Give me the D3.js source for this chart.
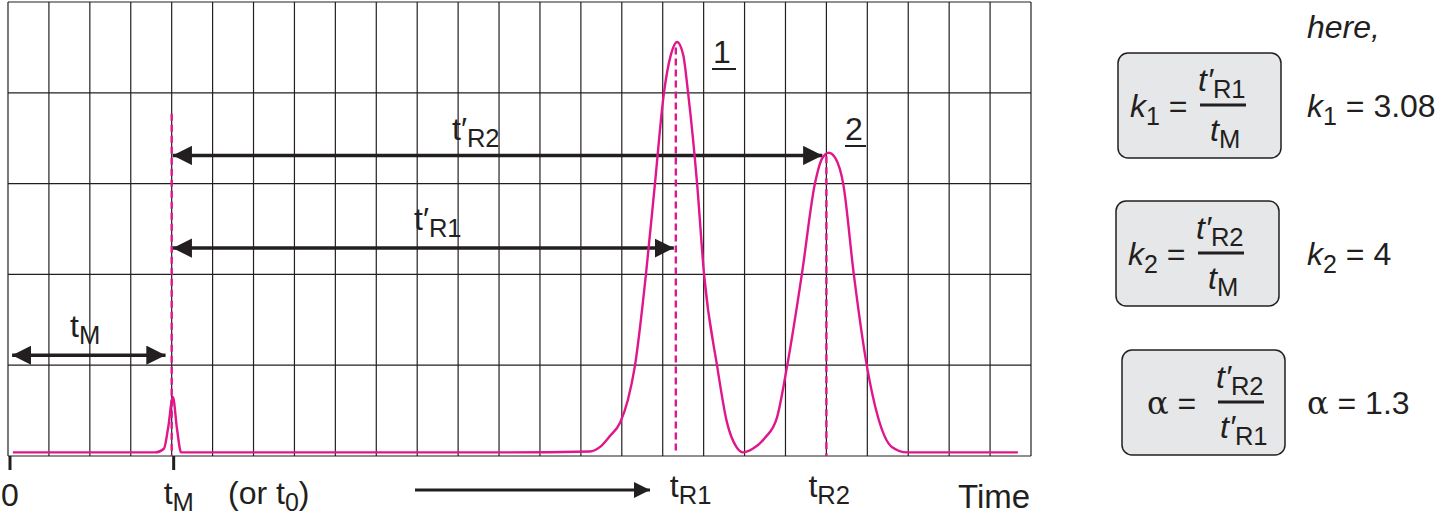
<!DOCTYPE html>
<html><head><meta charset="utf-8">
<script src="https://cdn.jsdelivr.net/npm/d3@7"></script>
<style>body{margin:0;background:#fff}text{font-family:"Liberation Sans",Arial,sans-serif;fill:#231f20}</style>
</head><body><svg id="c" width="1442" height="525"></svg>
<script>
// data (x in grid units of time, y in grid units of signal)
const traceX = [0.12,3.6,3.81,3.91,4.03,4.13,4.23,8,12,14.22,14.47,14.71,14.96,15.15,15.32,15.59,15.81,16.03,16.2,16.35,16.5,16.62,16.84,17.01,17.33,17.57,17.8,17.96,18.2,18.5,18.79,19.04,19.40,19.72,19.9,20.06,20.22,20.41,20.67,20.99,21.26,21.6,21.97,22.5,24.68];
const traceY = [0.04,0.04,0.08,0.3,0.65,0.3,0.04,0.04,0.04,0.05,0.1,0.22,0.37,0.62,0.99,2.0,3.0,4.0,4.42,4.56,4.42,4.0,3.0,2.0,0.99,0.37,0.1,0.04,0.08,0.2,0.42,0.99,2.0,3.0,3.28,3.34,3.28,3.0,2.0,0.99,0.43,0.1,0.04,0.04,0.04];
const tM = 4, tR1 = 16.32, tR2 = 20;
const bottomLabels = ["0","t_M","t_R1","t_R2"];
const formulas = [
  {lhs:"k", sub:"1", num:["t′","R1"], den:["t","M"], val:"3.08"},
  {lhs:"k", sub:"2", num:["t′","R2"], den:["t","M"], val:"4"},
  {lhs:"α", sub:"", num:["t′","R2"], den:["t′","R1"], val:"1.3"}
];

const svg = d3.select("#c");
const x = d3.scaleLinear().domain([0,25]).range([8,1031]);
const y = d3.scaleLinear().domain([0,5]).range([456,2]);
const pink = "#e0168c";
const FS = 32;

svg.append("g").selectAll("line").data(d3.range(0,26)).join("line")
  .attr("x1",d=>x(d)).attr("x2",d=>x(d)).attr("y1",y(0)).attr("y2",y(5))
  .attr("stroke","#231f20").attr("stroke-width",1.2);
svg.append("g").selectAll("line").data(d3.range(0,6)).join("line")
  .attr("x1",x(0)).attr("x2",x(25)).attr("y1",d=>y(d)).attr("y2",d=>y(d))
  .attr("stroke","#231f20").attr("stroke-width",1.2);

const defs = svg.append("defs");
defs.append("marker").attr("id","ah").attr("viewBox","0 0 10 10").attr("refX",10).attr("refY",5)
  .attr("markerWidth",5.5).attr("markerHeight",5.5).attr("orient","auto-start-reverse").attr("markerUnits","strokeWidth")
  .append("path").attr("d","M0,0L10,5L0,10z").attr("fill","#231f20");

function arrow(x1,x2,yy,both){
  const l = svg.append("line").attr("x1",x1).attr("x2",x2).attr("y1",yy).attr("y2",yy)
    .attr("stroke","#231f20").attr("stroke-width",3.5).attr("marker-end","url(#ah)");
  if(both) l.attr("marker-start","url(#ah)");
}
arrow(x(0.1), x(3.85), y(1.11), true);
arrow(x(tM)+1, x(tR2)-4, y(3.31), true);
arrow(x(tM)+1, x(tR1)-2, y(2.29), true);

[[tM,3.77,0],[tR1,4.5,0.05],[tR2,3.3,0]].forEach(([t,a,b])=>
  svg.append("line").attr("x1",x(t)).attr("x2",x(t)).attr("y1",y(a)).attr("y2",y(b))
    .attr("stroke",pink).attr("stroke-width",2.4).attr("stroke-dasharray","7,4"));

const pts = traceX.map((d,i)=>[d,traceY[i]]);
svg.append("path").datum(pts).attr("fill","none").attr("stroke",pink).attr("stroke-width",2.4)
  .attr("d", d3.line().x(d=>x(d[0])).y(d=>y(d[1])).curve(d3.curveMonotoneX));

[0,tM].forEach(t=>svg.append("line").attr("x1",x(t)+2).attr("x2",x(t)+2).attr("y1",y(0)).attr("y2",y(0)+14)
  .attr("stroke","#231f20").attr("stroke-width",3));

function subText(xx,yy,main,sub,size,anchor,italic){
  const t = svg.append("text").attr("x",xx).attr("y",yy).attr("font-size",size).attr("text-anchor",anchor||"start");
  const m = t.append("tspan").text(main); if(italic) m.attr("font-style","italic");
  if(sub) t.append("tspan").attr("dy",size*0.22).attr("font-size",size*0.8).text(sub);
  return t;
}
subText(70,337,"t","M",FS);
subText(452,140,"t′","R2",FS);
subText(414,230,"t′","R1",FS);
svg.append("text").attr("x",713).attr("y",63).attr("font-size",FS).text("1");
svg.append("line").attr("x1",712).attr("x2",736).attr("y1",69).attr("y2",69).attr("stroke","#231f20").attr("stroke-width",2);
svg.append("text").attr("x",845).attr("y",140).attr("font-size",FS).text("2");
svg.append("line").attr("x1",845).attr("x2",866).attr("y1",146).attr("y2",146).attr("stroke","#231f20").attr("stroke-width",2);

svg.append("text").attr("x",1).attr("y",506).attr("font-size",FS).text(bottomLabels[0]);
subText(x(tM)-8,504,"t","M",FS);
const t0 = svg.append("text").attr("x",228).attr("y",504).attr("font-size",FS);
t0.append("tspan").text("(or t"); t0.append("tspan").attr("dy",7).attr("font-size",25).text("0"); t0.append("tspan").attr("dy",-7).text(")");
svg.append("line").attr("x1",415).attr("x2",650).attr("y1",490).attr("y2",490).attr("stroke","#231f20").attr("stroke-width",3).attr("marker-end","url(#ah)");
subText(x(tR1)-6,497,"t","R1",FS);
subText(x(tR2)-18,497,"t","R2",FS);
svg.append("text").attr("x",958).attr("y",508).attr("font-size",33).text("Time");

svg.append("text").attr("x",1307).attr("y",38).attr("font-size",FS).attr("font-style","italic").text("here,");
const boxX=[1118,1116,1122], boxY=[53,201,350];
formulas.forEach((f,i)=>{
  const bx=boxX[i], by=boxY[i];
  svg.append("rect").attr("x",bx).attr("y",by).attr("width",163).attr("height",105).attr("rx",10)
    .attr("fill","#e6e7e8").attr("stroke","#231f20").attr("stroke-width",1.5);
  const cy = by+52;
  const isA = f.lhs==="α";
  const lhs = svg.append("text").attr("x",bx+(isA?25:12)).attr("y",cy+12).attr("font-size",FS);
  lhs.append("tspan").attr("font-style",isA?"normal":"italic").attr("font-family",isA?"DejaVu Serif":null).text(f.lhs);
  if(f.sub) lhs.append("tspan").attr("dy",8).attr("font-size",25).text(f.sub);
  lhs.append("tspan").attr("dy",f.sub?-8:0).text(" =");
  const fx = isA? bx+96 : bx+82;
  svg.append("line").attr("x1",fx).attr("x2",fx+46).attr("y1",cy).attr("y2",cy).attr("stroke","#231f20").attr("stroke-width",3);
  subText(fx+(f.num[0]==="t′"?0:8)-2,cy-14,f.num[0],f.num[1],FS,"start",true);
  subText(fx+(f.den[0]==="t′"?0:8)+2,cy+36,f.den[0],f.den[1],FS,"start",true);
  const v = svg.append("text").attr("x",1307).attr("y",cy+12).attr("font-size",FS);
  v.append("tspan").attr("font-style",isA?"normal":"italic").attr("font-family",isA?"DejaVu Serif":null).text(f.lhs);
  if(f.sub) v.append("tspan").attr("dy",8).attr("font-size",25).text(f.sub);
  v.append("tspan").attr("dy",f.sub?-8:0).text(" = "+f.val);
});
</script></body></html>
